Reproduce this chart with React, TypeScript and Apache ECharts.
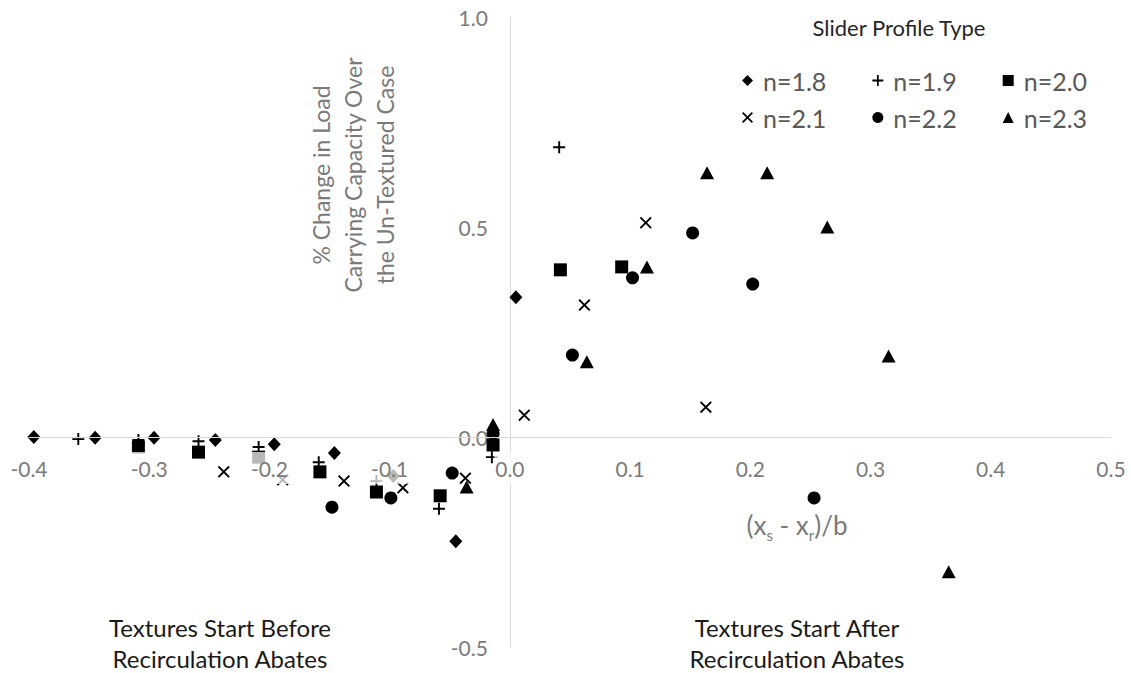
import React, { useEffect, useRef } from 'react';
import * as echarts from 'echarts';

const seriesNames = ['n=1.8', 'n=1.9', 'n=2.0', 'n=2.1', 'n=2.2', 'n=2.3'];

const n18: [number, number][] = [
  [-0.396, 0.0], [-0.345, -0.002], [-0.296, -0.002], [-0.245, -0.007], [-0.196, -0.017],
  [-0.146, -0.038], [-0.097, -0.093], [-0.045, -0.248], [0.005, 0.333],
];
const n19: [number, number][] = [
  [-0.359, -0.005], [-0.309, -0.007], [-0.259, -0.01], [-0.209, -0.024], [-0.159, -0.06],
  [-0.111, -0.105], [-0.059, -0.171], [-0.015, -0.048], [0.041, 0.69],
];
const n20: [number, number][] = [
  [-0.309, -0.024], [-0.259, -0.036], [-0.209, -0.048], [-0.158, -0.083], [-0.111, -0.131],
  [-0.058, -0.14], [-0.014, -0.019], [0.042, 0.398], [0.093, 0.405],
];
const n21: [number, number][] = [
  [-0.238, -0.083], [-0.189, -0.102], [-0.138, -0.105], [-0.089, -0.121], [-0.037, -0.098],
  [0.012, 0.052], [0.062, 0.314], [0.113, 0.51], [0.163, 0.071],
];
const n22: [number, number][] = [
  [-0.148, -0.167], [-0.099, -0.145], [-0.048, -0.086], [-0.014, 0.008], [0.052, 0.195],
  [0.102, 0.379], [0.152, 0.486], [0.202, 0.364], [0.253, -0.145],
];
const n23: [number, number][] = [
  [-0.036, -0.119], [-0.014, 0.03], [0.064, 0.179], [0.114, 0.405], [0.164, 0.629],
  [0.214, 0.629], [0.264, 0.5], [0.315, 0.193], [0.365, -0.321],
];

const xMin = -0.4, xMax = 0.5, xInterval = 0.1;
const yMin = -0.5, yMax = 1.0, yInterval = 0.5;

const yAxisTitleLines = ['% Change in Load', 'Carrying Capacity Over', 'the Un-Textured Case'];
const legendTitle = 'Slider Profile Type';
const leftNote = ['Textures Start Before', 'Recirculation Abates'];
const rightNote = ['Textures Start After', 'Recirculation Abates'];

const PLUS = 'path://M4.2,0H5.8V4.2H10V5.8H5.8V10H4.2V5.8H0V4.2H4.2Z';
const CROSS = 'path://M0,1.1L1.1,0L5,3.9L8.9,0L10,1.1L6.1,5L10,8.9L8.9,10L5,6.1L1.1,10L0,8.9L3.9,5Z';

const FONT = 'Lato, "Noto Sans", sans-serif';
const GRAY = '#7a7a7a';

const GRID = { left: 29, right: 20, top: 17, bottom: 26 };
const W = 1131, H = 673;

export default function App() {
  const ref = useRef<HTMLDivElement>(null);
  useEffect(() => {
    const chart = echarts.init(ref.current!, null, { renderer: 'svg' });
    const datasets = [n18, n19, n20, n21, n22, n23];
    const symbols: any[] = ['diamond', PLUS, 'rect', CROSS, 'circle', 'triangle'];
    const sizes: any[] = [[13, 14], 12, 13, 12, 13, [14, 13]];
    // place the axes (with their labels) at the other axis' zero
    const plotW = W - GRID.left - GRID.right;
    const plotH = H - GRID.top - GRID.bottom;
    const xZeroOffset = -((0 - xMin) / (xMax - xMin)) * plotW;
    const yZeroOffset = -((0 - yMin) / (yMax - yMin)) * plotH;
    const option: any = {
      animation: false,
      textStyle: { fontFamily: FONT },
      grid: { ...GRID, containLabel: false, outerBoundsMode: 'none' },
      xAxis: {
        type: 'value', min: xMin, max: xMax, interval: xInterval, z: 5,
        position: 'bottom', offset: yZeroOffset,
        axisLine: { onZero: false, lineStyle: { color: '#d9d9d9', width: 1 } },
        axisTick: { show: false },
        splitLine: { show: false },
        axisLabel: {
          fontSize: 21, color: GRAY, fontFamily: FONT, margin: 15, lineHeight: 24,
          padding: [4, 1, 4, 1], backgroundColor: 'rgba(255,255,255,0.72)',
          formatter: (v: number) => v.toFixed(1),
        },
      },
      yAxis: {
        type: 'value', min: yMin, max: yMax, interval: yInterval,
        position: 'left', offset: xZeroOffset,
        axisLine: { show: true, onZero: false, lineStyle: { color: '#d9d9d9', width: 1 } },
        axisTick: { show: false },
        splitLine: { show: false },
        axisLabel: { fontSize: 21, color: GRAY, fontFamily: FONT, margin: 22, formatter: (v: number) => v.toFixed(1) },
      },
      legend: [
        {
          data: seriesNames.slice(0, 3), left: 742, top: 68, padding: 0, itemGap: 46,
          itemWidth: 11, itemHeight: 11,
          textStyle: { fontSize: 25, color: '#595959', fontFamily: FONT, padding: [0, 0, 0, 5] },
        },
        {
          data: seriesNames.slice(3), left: 742, top: 105, padding: 0, itemGap: 46,
          itemWidth: 11, itemHeight: 11,
          textStyle: { fontSize: 25, color: '#595959', fontFamily: FONT, padding: [0, 0, 0, 5] },
        },
      ],
      series: datasets.map((d, i) => ({
        type: 'scatter', name: seriesNames[i], data: d,
        symbol: symbols[i], symbolSize: sizes[i],
        itemStyle: { color: '#000000', opacity: 1 },
      })),
      graphic: [
        {
          type: 'text', x: 899, y: 27,
          style: { text: legendTitle, textAlign: 'center', textVerticalAlign: 'middle', fontSize: 22, fill: '#262626', fontFamily: FONT },
        },
        {
          type: 'text', x: 353, y: 175, rotation: Math.PI / 2,
          style: {
            text: yAxisTitleLines.join('\n'), textAlign: 'center', textVerticalAlign: 'middle',
            fontSize: 23, lineHeight: 32, fill: GRAY, fontFamily: FONT,
          },
        },
        {
          type: 'text', x: 797, y: 525,
          style: {
            text: '(x{s|s} - x{s|r})/b', textAlign: 'center', textVerticalAlign: 'middle',
            fontSize: 26, lineHeight: 34, fill: GRAY, fontFamily: FONT,
            rich: { s: { fontSize: 15, lineHeight: 16, verticalAlign: 'bottom', fill: GRAY, fontFamily: FONT } },
          },
        },
        {
          type: 'text', x: 220, y: 643,
          style: { text: leftNote.join('\n'), textAlign: 'center', textVerticalAlign: 'middle', fontSize: 24, lineHeight: 31, fill: '#1a1a1a', fontFamily: FONT },
        },
        {
          type: 'text', x: 797, y: 643,
          style: { text: rightNote.join('\n'), textAlign: 'center', textVerticalAlign: 'middle', fontSize: 24, lineHeight: 31, fill: '#1a1a1a', fontFamily: FONT },
        },
      ],
    };
    chart.setOption(option);
    return () => chart.dispose();
  }, []);
  return <div ref={ref} style={{ position: 'fixed', left: 0, top: 0, width: W, height: H, background: '#fff' }} />;
}
